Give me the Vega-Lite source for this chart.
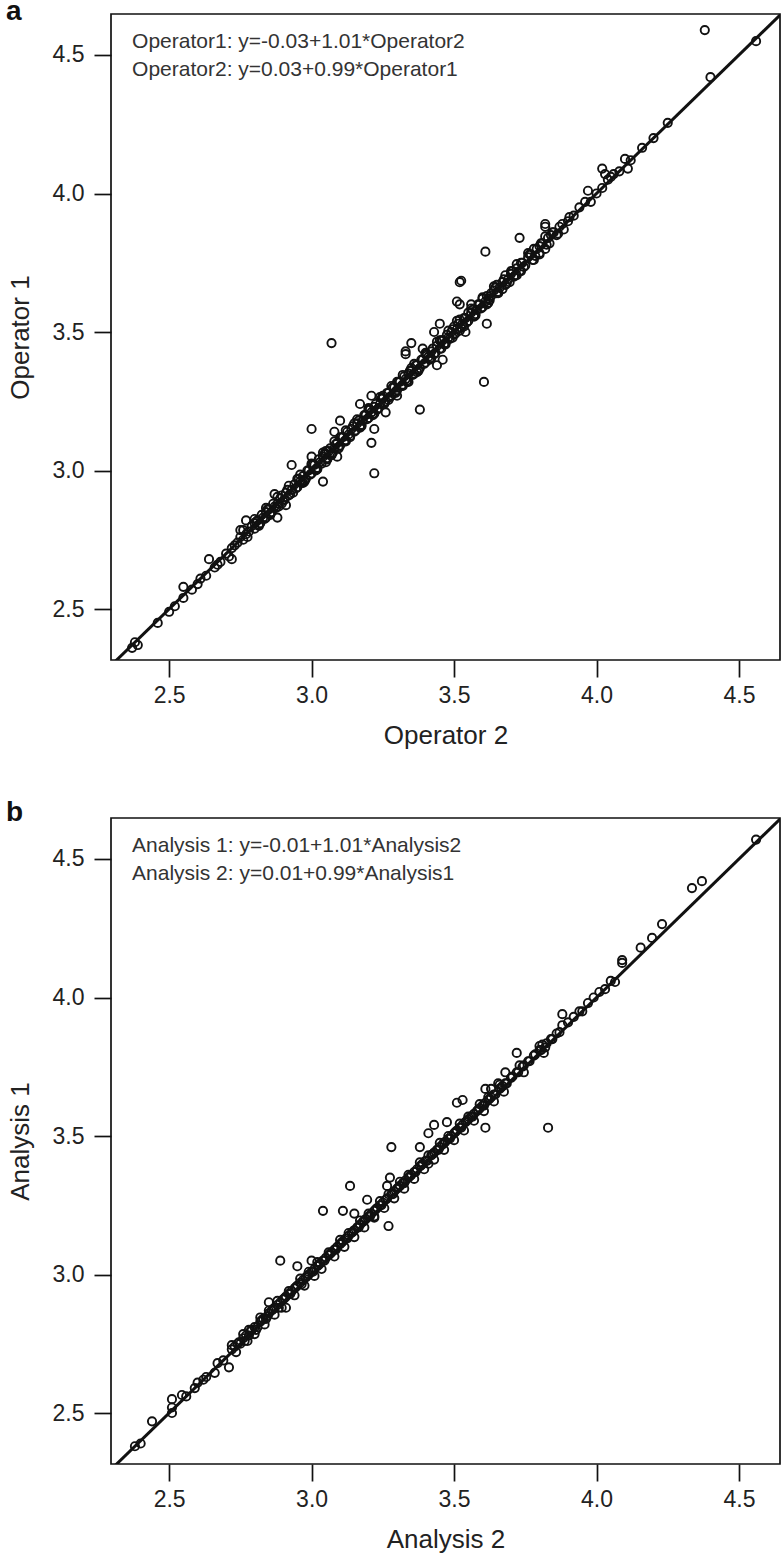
{
"$schema": "https://vega.github.io/schema/vega-lite/v6.json",
"autosize": "none",
"padding": {"left": 111, "top": 14, "right": 670, "bottom": 1546},
"background": "white",
"bounds": "flush",
"spacing": 158,
"config": {
  "font": "Liberation Sans",
  "view": {"stroke": "#111", "strokeWidth": 1.7},
  "axis": {"domain": false, "grid": false, "ticks": true, "tickColor": "#111", "tickSize": 17, "tickWidth": 1.7, "labelFontSize": 23, "labelColor": "#222", "titleFontSize": 26, "titleFontWeight": "normal", "titleColor": "#222", "labelFont": "Liberation Sans", "titleFont": "Liberation Sans"},
  "axisX": {"labelPadding": 7, "titlePadding": 15},
  "axisY": {"labelPadding": 10, "titlePadding": 19}
},
"datasets": {
"opA": [
{"o2":2.37,"o1":2.36},{"o2":2.38,"o1":2.38},{"o2":2.39,"o1":2.37},{"o2":2.46,"o1":2.45},{"o2":2.50,"o1":2.49},{"o2":2.52,"o1":2.51},{"o2":2.55,"o1":2.54},{"o2":2.55,"o1":2.58},{"o2":2.58,"o1":2.57},{"o2":2.60,"o1":2.59},{"o2":2.61,"o1":2.61},{"o2":2.63,"o1":2.62},{"o2":2.64,"o1":2.68},{"o2":2.66,"o1":2.65},{"o2":2.67,"o1":2.66},{"o2":2.68,"o1":2.67},{"o2":2.70,"o1":2.70},{"o2":2.71,"o1":2.69},{"o2":2.72,"o1":2.68},{"o2":2.72,"o1":2.72},{"o2":2.73,"o1":2.73},{"o2":2.74,"o1":2.74},{"o2":2.75,"o1":2.76},{"o2":2.75,"o1":2.785},{"o2":2.76,"o1":2.75},{"o2":2.77,"o1":2.77},{"o2":2.77,"o1":2.82},{"o2":2.78,"o1":2.78},{"o2":2.79,"o1":2.80},{"o2":2.80,"o1":2.79},{"o2":2.80,"o1":2.81},{"o2":2.81,"o1":2.82},{"o2":2.82,"o1":2.81},{"o2":2.83,"o1":2.83},{"o2":2.84,"o1":2.85},{"o2":2.84,"o1":2.83},{"o2":2.85,"o1":2.86},{"o2":2.86,"o1":2.85},{"o2":2.87,"o1":2.87},{"o2":2.87,"o1":2.915},{"o2":2.88,"o1":2.83},{"o2":2.88,"o1":2.88},{"o2":2.89,"o1":2.90},{"o2":2.90,"o1":2.89},{"o2":2.91,"o1":2.875},{"o2":2.91,"o1":2.92},{"o2":2.92,"o1":2.91},{"o2":2.93,"o1":3.02},{"o2":2.93,"o1":2.93},{"o2":2.94,"o1":2.95},{"o2":2.95,"o1":2.94},{"o2":2.96,"o1":2.96},{"o2":2.97,"o1":2.98},{"o2":2.98,"o1":2.97},{"o2":2.99,"o1":3.00},{"o2":3.00,"o1":3.05},{"o2":3.00,"o1":3.15},{"o2":3.00,"o1":2.99},{"o2":3.01,"o1":3.02},{"o2":3.02,"o1":3.01},{"o2":3.03,"o1":3.03},{"o2":3.04,"o1":2.96},{"o2":3.04,"o1":3.05},{"o2":3.05,"o1":3.03},{"o2":3.05,"o1":3.06},{"o2":3.06,"o1":3.07},{"o2":3.07,"o1":3.06},{"o2":3.07,"o1":3.46},{"o2":3.08,"o1":3.08},{"o2":3.08,"o1":3.14},{"o2":3.09,"o1":3.05},{"o2":3.09,"o1":3.10},{"o2":3.10,"o1":3.18},{"o2":3.10,"o1":3.09},{"o2":3.11,"o1":3.12},{"o2":3.12,"o1":3.11},{"o2":3.13,"o1":3.13},{"o2":3.14,"o1":3.15},{"o2":3.15,"o1":3.14},{"o2":3.16,"o1":3.17},{"o2":3.17,"o1":3.24},{"o2":3.17,"o1":3.16},{"o2":3.18,"o1":3.18},{"o2":3.19,"o1":3.20},{"o2":3.20,"o1":3.19},{"o2":3.21,"o1":3.27},{"o2":3.21,"o1":3.10},{"o2":3.21,"o1":3.21},{"o2":3.22,"o1":3.15},{"o2":3.22,"o1":2.99},{"o2":3.22,"o1":3.23},{"o2":3.23,"o1":3.22},{"o2":3.24,"o1":3.24},{"o2":3.25,"o1":3.26},{"o2":3.26,"o1":3.21},{"o2":3.26,"o1":3.25},{"o2":3.27,"o1":3.28},{"o2":3.28,"o1":3.27},{"o2":3.29,"o1":3.30},{"o2":3.30,"o1":3.27},{"o2":3.30,"o1":3.29},{"o2":3.31,"o1":3.32},{"o2":3.32,"o1":3.31},{"o2":3.33,"o1":3.42},{"o2":3.33,"o1":3.43},{"o2":3.33,"o1":3.33},{"o2":3.34,"o1":3.32},{"o2":3.34,"o1":3.35},{"o2":3.35,"o1":3.46},{"o2":3.35,"o1":3.36},{"o2":3.36,"o1":3.35},{"o2":3.37,"o1":3.38},{"o2":3.38,"o1":3.22},{"o2":3.38,"o1":3.37},{"o2":3.39,"o1":3.44},{"o2":3.39,"o1":3.40},{"o2":3.40,"o1":3.39},{"o2":3.41,"o1":3.41},{"o2":3.42,"o1":3.43},{"o2":3.43,"o1":3.50},{"o2":3.43,"o1":3.42},{"o2":3.44,"o1":3.38},{"o2":3.44,"o1":3.45},{"o2":3.45,"o1":3.53},{"o2":3.45,"o1":3.44},{"o2":3.46,"o1":3.40},{"o2":3.46,"o1":3.47},{"o2":3.47,"o1":3.46},{"o2":3.48,"o1":3.48},{"o2":3.49,"o1":3.50},{"o2":3.50,"o1":3.49},{"o2":3.51,"o1":3.54},{"o2":3.51,"o1":3.61},{"o2":3.51,"o1":3.51},{"o2":3.52,"o1":3.60},{"o2":3.52,"o1":3.68},{"o2":3.525,"o1":3.685},{"o2":3.53,"o1":3.53},{"o2":3.54,"o1":3.50},{"o2":3.54,"o1":3.55},{"o2":3.55,"o1":3.54},{"o2":3.56,"o1":3.60},{"o2":3.56,"o1":3.57},{"o2":3.57,"o1":3.56},{"o2":3.58,"o1":3.58},{"o2":3.59,"o1":3.60},{"o2":3.60,"o1":3.59},{"o2":3.605,"o1":3.32},{"o2":3.61,"o1":3.79},{"o2":3.61,"o1":3.61},{"o2":3.615,"o1":3.53},{"o2":3.62,"o1":3.62},{"o2":3.63,"o1":3.63},{"o2":3.63,"o1":3.64},{"o2":3.64,"o1":3.65},{"o2":3.65,"o1":3.64},{"o2":3.66,"o1":3.66},{"o2":3.67,"o1":3.68},{"o2":3.68,"o1":3.67},{"o2":3.69,"o1":3.69},{"o2":3.70,"o1":3.71},{"o2":3.71,"o1":3.70},{"o2":3.72,"o1":3.73},{"o2":3.73,"o1":3.84},{"o2":3.73,"o1":3.72},{"o2":3.74,"o1":3.75},{"o2":3.75,"o1":3.74},{"o2":3.76,"o1":3.77},{"o2":3.77,"o1":3.78},{"o2":3.78,"o1":3.76},{"o2":3.79,"o1":3.80},{"o2":3.80,"o1":3.81},{"o2":3.80,"o1":3.78},{"o2":3.81,"o1":3.82},{"o2":3.82,"o1":3.89},{"o2":3.82,"o1":3.88},{"o2":3.82,"o1":3.80},{"o2":3.83,"o1":3.84},{"o2":3.84,"o1":3.85},{"o2":3.85,"o1":3.86},{"o2":3.86,"o1":3.85},{"o2":3.87,"o1":3.88},{"o2":3.88,"o1":3.89},{"o2":3.90,"o1":3.90},{"o2":3.92,"o1":3.92},{"o2":3.94,"o1":3.95},{"o2":3.96,"o1":3.97},{"o2":3.97,"o1":4.01},{"o2":3.98,"o1":3.97},{"o2":4.00,"o1":4.00},{"o2":4.02,"o1":4.09},{"o2":4.02,"o1":4.02},{"o2":4.03,"o1":4.07},{"o2":4.04,"o1":4.05},{"o2":4.05,"o1":4.06},{"o2":4.06,"o1":4.07},{"o2":4.08,"o1":4.08},{"o2":4.10,"o1":4.125},{"o2":4.11,"o1":4.09},{"o2":4.12,"o1":4.12},{"o2":4.16,"o1":4.165},{"o2":4.20,"o1":4.20},{"o2":4.25,"o1":4.255},{"o2":4.38,"o1":4.59},{"o2":4.40,"o1":4.42},{"o2":4.56,"o1":4.55},
{"o2":2.805,"o1":2.815},{"o2":2.815,"o1":2.805},{"o2":2.825,"o1":2.84},{"o2":2.835,"o1":2.825},{"o2":2.845,"o1":2.86},{"o2":2.855,"o1":2.845},{"o2":2.865,"o1":2.88},{"o2":2.875,"o1":2.865},{"o2":2.885,"o1":2.87},{"o2":2.895,"o1":2.91},{"o2":2.905,"o1":2.895},{"o2":2.915,"o1":2.93},{"o2":2.925,"o1":2.915},{"o2":2.945,"o1":2.935},{"o2":2.955,"o1":2.97},{"o2":2.965,"o1":2.955},{"o2":2.975,"o1":2.965},{"o2":2.985,"o1":3.0},{"o2":2.995,"o1":2.985},{"o2":3.005,"o1":3.02},{"o2":3.015,"o1":3.005},{"o2":3.025,"o1":3.04},{"o2":3.035,"o1":3.025},{"o2":3.045,"o1":3.06},{"o2":3.055,"o1":3.045},{"o2":3.065,"o1":3.08},{"o2":3.075,"o1":3.065},{"o2":3.085,"o1":3.095},{"o2":3.095,"o1":3.085},{"o2":3.105,"o1":3.12},{"o2":3.115,"o1":3.105},{"o2":3.125,"o1":3.14},{"o2":3.135,"o1":3.125},{"o2":3.145,"o1":3.16},{"o2":3.155,"o1":3.145},{"o2":3.165,"o1":3.18},{"o2":3.175,"o1":3.165},{"o2":3.185,"o1":3.2},{"o2":3.195,"o1":3.185},{"o2":3.205,"o1":3.22},{"o2":3.215,"o1":3.205},{"o2":3.225,"o1":3.24},{"o2":3.235,"o1":3.225},{"o2":3.245,"o1":3.26},{"o2":3.255,"o1":3.245},{"o2":3.265,"o1":3.28},{"o2":3.275,"o1":3.265},{"o2":3.285,"o1":3.3},{"o2":3.295,"o1":3.285},{"o2":3.305,"o1":3.32},{"o2":3.315,"o1":3.305},{"o2":3.325,"o1":3.34},{"o2":3.335,"o1":3.325},{"o2":3.345,"o1":3.36},{"o2":3.355,"o1":3.345},{"o2":3.365,"o1":3.38},{"o2":3.375,"o1":3.365},{"o2":3.385,"o1":3.4},{"o2":3.395,"o1":3.385},{"o2":3.405,"o1":3.42},{"o2":3.415,"o1":3.405},{"o2":3.425,"o1":3.44},{"o2":3.435,"o1":3.425},{"o2":3.455,"o1":3.47},{"o2":3.465,"o1":3.455},{"o2":3.475,"o1":3.49},{"o2":3.485,"o1":3.475},{"o2":3.495,"o1":3.51},{"o2":3.505,"o1":3.495},{"o2":3.515,"o1":3.53},{"o2":3.525,"o1":3.515},{"o2":3.535,"o1":3.55},{"o2":3.545,"o1":3.535},{"o2":3.565,"o1":3.58},{"o2":3.575,"o1":3.565},{"o2":3.585,"o1":3.6},{"o2":3.595,"o1":3.585},{"o2":3.615,"o1":3.63},{"o2":3.625,"o1":3.615},{"o2":3.645,"o1":3.66},{"o2":3.655,"o1":3.645},{"o2":3.675,"o1":3.69},{"o2":3.685,"o1":3.675},{"o2":3.705,"o1":3.72},{"o2":3.715,"o1":3.705},{"o2":3.735,"o1":3.75},{"o2":3.745,"o1":3.735},{"o2":3.765,"o1":3.78},{"o2":3.785,"o1":3.775},{"o2":3.805,"o1":3.82},{"o2":3.825,"o1":3.815},{"o2":3.845,"o1":3.86},{"o2":3.865,"o1":3.855},{"o2":3.885,"o1":3.87},{"o2":3.905,"o1":3.915},
{"o2":2.95,"o1":2.97},{"o2":2.97,"o1":2.955},{"o2":3.00,"o1":3.02},{"o2":3.02,"o1":3.005},{"o2":3.05,"o1":3.07},{"o2":3.07,"o1":3.055},{"o2":3.10,"o1":3.12},{"o2":3.12,"o1":3.105},{"o2":3.15,"o1":3.17},{"o2":3.17,"o1":3.155},{"o2":3.20,"o1":3.22},{"o2":3.22,"o1":3.205},{"o2":3.25,"o1":3.27},{"o2":3.27,"o1":3.255},{"o2":3.30,"o1":3.32},{"o2":3.32,"o1":3.305},{"o2":3.35,"o1":3.37},{"o2":3.37,"o1":3.355},{"o2":3.40,"o1":3.42},{"o2":3.42,"o1":3.405},{"o2":3.45,"o1":3.47},{"o2":3.47,"o1":3.455},{"o2":3.50,"o1":3.52},{"o2":3.52,"o1":3.505},{"o2":3.55,"o1":3.57},{"o2":3.57,"o1":3.555},{"o2":3.60,"o1":3.62},{"o2":3.62,"o1":3.605},{"o2":3.65,"o1":3.67},{"o2":3.67,"o1":3.655},{"o2":3.70,"o1":3.72},{"o2":3.72,"o1":3.705},{"o2":3.78,"o1":3.80},{"o2":3.80,"o1":3.785},
{"o2":2.76,"o1":2.785},{"o2":2.775,"o1":2.76},{"o2":2.80,"o1":2.825},{"o2":2.815,"o1":2.80},{"o2":2.84,"o1":2.865},{"o2":2.855,"o1":2.84},{"o2":2.88,"o1":2.905},{"o2":2.895,"o1":2.88},{"o2":2.92,"o1":2.945},{"o2":2.935,"o1":2.92},{"o2":2.96,"o1":2.985},{"o2":2.975,"o1":2.96},{"o2":3.00,"o1":3.025},{"o2":3.015,"o1":3.00},{"o2":3.04,"o1":3.065},{"o2":3.055,"o1":3.04},{"o2":3.08,"o1":3.105},{"o2":3.095,"o1":3.08},{"o2":3.12,"o1":3.145},{"o2":3.135,"o1":3.12},{"o2":3.16,"o1":3.185},{"o2":3.175,"o1":3.16},{"o2":3.20,"o1":3.225},{"o2":3.215,"o1":3.20},{"o2":3.24,"o1":3.265},{"o2":3.255,"o1":3.24},{"o2":3.28,"o1":3.305},{"o2":3.295,"o1":3.28},{"o2":3.32,"o1":3.345},{"o2":3.335,"o1":3.32},{"o2":3.36,"o1":3.385},{"o2":3.375,"o1":3.36},{"o2":3.40,"o1":3.425},{"o2":3.415,"o1":3.40},{"o2":3.44,"o1":3.465},{"o2":3.455,"o1":3.44},{"o2":3.48,"o1":3.505},{"o2":3.495,"o1":3.48},{"o2":3.52,"o1":3.545},{"o2":3.535,"o1":3.52},{"o2":3.56,"o1":3.585},{"o2":3.575,"o1":3.56},{"o2":3.60,"o1":3.625},{"o2":3.615,"o1":3.60},{"o2":3.64,"o1":3.665},{"o2":3.655,"o1":3.64},{"o2":3.68,"o1":3.705},{"o2":3.695,"o1":3.68},{"o2":3.72,"o1":3.745},{"o2":3.735,"o1":3.72},{"o2":3.76,"o1":3.785},{"o2":3.775,"o1":3.76},{"o2":3.82,"o1":3.845},{"o2":3.835,"o1":3.82}
],
"opB": [
{"a2":2.38,"a1":2.38},{"a2":2.40,"a1":2.39},{"a2":2.44,"a1":2.47},{"a2":2.51,"a1":2.55},{"a2":2.51,"a1":2.50},{"a2":2.51,"a1":2.52},{"a2":2.545,"a1":2.565},{"a2":2.56,"a1":2.56},{"a2":2.59,"a1":2.59},{"a2":2.60,"a1":2.61},{"a2":2.62,"a1":2.62},{"a2":2.63,"a1":2.63},{"a2":2.66,"a1":2.645},{"a2":2.67,"a1":2.68},{"a2":2.69,"a1":2.69},{"a2":2.71,"a1":2.665},{"a2":2.72,"a1":2.73},{"a2":2.73,"a1":2.74},{"a2":2.74,"a1":2.75},{"a2":2.75,"a1":2.75},{"a2":2.76,"a1":2.77},{"a2":2.77,"a1":2.78},{"a2":2.78,"a1":2.78},{"a2":2.79,"a1":2.80},{"a2":2.80,"a1":2.81},{"a2":2.81,"a1":2.81},{"a2":2.82,"a1":2.83},{"a2":2.83,"a1":2.84},{"a2":2.84,"a1":2.84},{"a2":2.85,"a1":2.90},{"a2":2.85,"a1":2.86},{"a2":2.86,"a1":2.87},{"a2":2.87,"a1":2.88},{"a2":2.88,"a1":2.89},{"a2":2.89,"a1":3.05},{"a2":2.89,"a1":2.90},{"a2":2.90,"a1":2.91},{"a2":2.91,"a1":2.88},{"a2":2.91,"a1":2.92},{"a2":2.92,"a1":2.93},{"a2":2.93,"a1":2.94},{"a2":2.94,"a1":2.95},{"a2":2.95,"a1":3.03},{"a2":2.95,"a1":2.96},{"a2":2.96,"a1":2.97},{"a2":2.97,"a1":2.98},{"a2":2.98,"a1":2.99},{"a2":2.99,"a1":3.00},{"a2":3.00,"a1":3.05},{"a2":3.00,"a1":3.01},{"a2":3.01,"a1":3.02},{"a2":3.02,"a1":3.03},{"a2":3.03,"a1":3.04},{"a2":3.04,"a1":3.23},{"a2":3.04,"a1":3.05},{"a2":3.05,"a1":3.06},{"a2":3.06,"a1":3.07},{"a2":3.07,"a1":3.08},{"a2":3.08,"a1":3.09},{"a2":3.09,"a1":3.10},{"a2":3.10,"a1":3.11},{"a2":3.11,"a1":3.23},{"a2":3.11,"a1":3.12},{"a2":3.12,"a1":3.13},{"a2":3.13,"a1":3.14},{"a2":3.135,"a1":3.32},{"a2":3.14,"a1":3.15},{"a2":3.15,"a1":3.22},{"a2":3.15,"a1":3.16},{"a2":3.16,"a1":3.17},{"a2":3.17,"a1":3.18},{"a2":3.18,"a1":3.19},{"a2":3.19,"a1":3.20},{"a2":3.195,"a1":3.27},{"a2":3.20,"a1":3.21},{"a2":3.21,"a1":3.22},{"a2":3.22,"a1":3.21},{"a2":3.22,"a1":3.23},{"a2":3.23,"a1":3.24},{"a2":3.24,"a1":3.25},{"a2":3.25,"a1":3.26},{"a2":3.26,"a1":3.27},{"a2":3.265,"a1":3.32},{"a2":3.27,"a1":3.175},{"a2":3.275,"a1":3.35},{"a2":3.28,"a1":3.46},{"a2":3.28,"a1":3.29},{"a2":3.29,"a1":3.30},{"a2":3.30,"a1":3.31},{"a2":3.31,"a1":3.32},{"a2":3.32,"a1":3.33},{"a2":3.33,"a1":3.34},{"a2":3.34,"a1":3.35},{"a2":3.35,"a1":3.36},{"a2":3.36,"a1":3.37},{"a2":3.37,"a1":3.38},{"a2":3.38,"a1":3.46},{"a2":3.38,"a1":3.39},{"a2":3.39,"a1":3.40},{"a2":3.40,"a1":3.41},{"a2":3.41,"a1":3.40},{"a2":3.41,"a1":3.51},{"a2":3.42,"a1":3.43},{"a2":3.43,"a1":3.54},{"a2":3.43,"a1":3.44},{"a2":3.44,"a1":3.45},{"a2":3.45,"a1":3.46},{"a2":3.46,"a1":3.47},{"a2":3.475,"a1":3.55},{"a2":3.47,"a1":3.48},{"a2":3.48,"a1":3.49},{"a2":3.49,"a1":3.50},{"a2":3.50,"a1":3.51},{"a2":3.51,"a1":3.62},{"a2":3.51,"a1":3.52},{"a2":3.52,"a1":3.53},{"a2":3.53,"a1":3.63},{"a2":3.53,"a1":3.54},{"a2":3.54,"a1":3.55},{"a2":3.55,"a1":3.56},{"a2":3.56,"a1":3.57},{"a2":3.57,"a1":3.58},{"a2":3.58,"a1":3.59},{"a2":3.59,"a1":3.60},{"a2":3.60,"a1":3.61},{"a2":3.61,"a1":3.67},{"a2":3.61,"a1":3.53},{"a2":3.61,"a1":3.62},{"a2":3.62,"a1":3.63},{"a2":3.63,"a1":3.67},{"a2":3.63,"a1":3.64},{"a2":3.64,"a1":3.65},{"a2":3.655,"a1":3.69},{"a2":3.66,"a1":3.67},{"a2":3.67,"a1":3.68},{"a2":3.68,"a1":3.73},{"a2":3.68,"a1":3.69},{"a2":3.70,"a1":3.71},{"a2":3.72,"a1":3.80},{"a2":3.72,"a1":3.73},{"a2":3.74,"a1":3.75},{"a2":3.76,"a1":3.77},{"a2":3.78,"a1":3.79},{"a2":3.80,"a1":3.81},{"a2":3.81,"a1":3.83},{"a2":3.82,"a1":3.82},{"a2":3.83,"a1":3.53},{"a2":3.84,"a1":3.85},{"a2":3.86,"a1":3.87},{"a2":3.88,"a1":3.90},{"a2":3.88,"a1":3.94},{"a2":3.90,"a1":3.91},{"a2":3.92,"a1":3.93},{"a2":3.94,"a1":3.95},{"a2":3.95,"a1":3.95},{"a2":3.97,"a1":3.98},{"a2":3.99,"a1":4.00},{"a2":4.01,"a1":4.02},{"a2":4.03,"a1":4.03},{"a2":4.05,"a1":4.06},{"a2":4.065,"a1":4.056},{"a2":4.09,"a1":4.135},{"a2":4.09,"a1":4.125},{"a2":4.155,"a1":4.18},{"a2":4.195,"a1":4.215},{"a2":4.23,"a1":4.265},{"a2":4.335,"a1":4.395},{"a2":4.37,"a1":4.42},{"a2":4.56,"a1":4.57},
{"a2":2.745,"a1":2.755},{"a2":2.765,"a1":2.76},{"a2":2.785,"a1":2.795},{"a2":2.805,"a1":2.80},{"a2":2.825,"a1":2.835},{"a2":2.845,"a1":2.85},{"a2":2.865,"a1":2.875},{"a2":2.885,"a1":2.88},{"a2":2.905,"a1":2.915},{"a2":2.925,"a1":2.93},{"a2":2.945,"a1":2.955},{"a2":2.965,"a1":2.965},{"a2":2.985,"a1":2.995},{"a2":3.005,"a1":3.01},{"a2":3.025,"a1":3.035},{"a2":3.045,"a1":3.05},{"a2":3.065,"a1":3.075},{"a2":3.085,"a1":3.09},{"a2":3.105,"a1":3.115},{"a2":3.125,"a1":3.13},{"a2":3.145,"a1":3.155},{"a2":3.165,"a1":3.17},{"a2":3.185,"a1":3.195},{"a2":3.205,"a1":3.21},{"a2":3.225,"a1":3.235},{"a2":3.245,"a1":3.25},{"a2":3.265,"a1":3.275},{"a2":3.285,"a1":3.29},{"a2":3.305,"a1":3.315},{"a2":3.325,"a1":3.33},{"a2":3.345,"a1":3.355},{"a2":3.365,"a1":3.37},{"a2":3.385,"a1":3.395},{"a2":3.405,"a1":3.41},{"a2":3.425,"a1":3.435},{"a2":3.445,"a1":3.45},{"a2":3.465,"a1":3.475},{"a2":3.485,"a1":3.49},{"a2":3.505,"a1":3.515},{"a2":3.525,"a1":3.53},{"a2":3.545,"a1":3.555},{"a2":3.565,"a1":3.57},{"a2":3.585,"a1":3.595},{"a2":3.605,"a1":3.61},{"a2":3.625,"a1":3.635},{"a2":3.645,"a1":3.65},{"a2":3.665,"a1":3.675},{"a2":3.685,"a1":3.69},{"a2":3.705,"a1":3.715},{"a2":3.725,"a1":3.73},{"a2":3.745,"a1":3.755},{"a2":3.765,"a1":3.77},{"a2":3.785,"a1":3.795},{"a2":3.805,"a1":3.81},{"a2":3.825,"a1":3.835},{"a2":3.845,"a1":3.85},{"a2":3.87,"a1":3.875},
{"a2":2.78,"a1":2.80},{"a2":2.80,"a1":2.785},{"a2":2.85,"a1":2.87},{"a2":2.87,"a1":2.855},{"a2":2.92,"a1":2.94},{"a2":2.94,"a1":2.925},{"a2":2.99,"a1":3.01},{"a2":3.01,"a1":2.995},{"a2":3.06,"a1":3.08},{"a2":3.08,"a1":3.065},{"a2":3.13,"a1":3.15},{"a2":3.15,"a1":3.135},{"a2":3.20,"a1":3.22},{"a2":3.22,"a1":3.205},{"a2":3.27,"a1":3.29},{"a2":3.29,"a1":3.275},{"a2":3.34,"a1":3.36},{"a2":3.36,"a1":3.345},{"a2":3.41,"a1":3.43},{"a2":3.43,"a1":3.415},{"a2":3.48,"a1":3.50},{"a2":3.50,"a1":3.485},{"a2":3.55,"a1":3.57},{"a2":3.57,"a1":3.555},{"a2":3.62,"a1":3.64},{"a2":3.64,"a1":3.625},
{"a2":2.72,"a1":2.745},{"a2":2.735,"a1":2.72},{"a2":2.76,"a1":2.785},{"a2":2.775,"a1":2.76},{"a2":2.82,"a1":2.845},{"a2":2.835,"a1":2.82},{"a2":2.88,"a1":2.905},{"a2":2.895,"a1":2.88},{"a2":2.96,"a1":2.985},{"a2":2.975,"a1":2.96},{"a2":3.02,"a1":3.045},{"a2":3.035,"a1":3.02},{"a2":3.10,"a1":3.125},{"a2":3.115,"a1":3.10},{"a2":3.17,"a1":3.195},{"a2":3.185,"a1":3.17},{"a2":3.24,"a1":3.265},{"a2":3.255,"a1":3.24},{"a2":3.31,"a1":3.335},{"a2":3.325,"a1":3.31},{"a2":3.38,"a1":3.405},{"a2":3.395,"a1":3.38},{"a2":3.45,"a1":3.475},{"a2":3.465,"a1":3.45},{"a2":3.52,"a1":3.545},{"a2":3.535,"a1":3.52},{"a2":3.59,"a1":3.615},{"a2":3.605,"a1":3.59},{"a2":3.66,"a1":3.685},{"a2":3.675,"a1":3.66},{"a2":3.73,"a1":3.755},{"a2":3.745,"a1":3.73},{"a2":3.80,"a1":3.825},{"a2":3.815,"a1":3.80}
]
},
"vconcat": [
{
 "width": 669, "height": 646,
 "title": {"text": "a", "anchor": "start", "frame": "group", "fontSize": 28, "fontWeight": "bold", "font": "Liberation Sans", "color": "#111", "dx": -105, "offset": 0, "dy": 34, "baseline": "alphabetic"},
 "layer": [
  {"data": {"name": "opA"},
   "mark": {"type": "point", "shape": "circle", "filled": false, "size": 68, "strokeWidth": 1.9, "color": "#111", "opacity": 1},
   "encoding": {
     "x": {"field": "o2", "type": "quantitative", "scale": {"domain": [2.296, 4.644], "nice": false, "zero": false}, "axis": {"values": [2.5, 3, 3.5, 4, 4.5], "format": ".1f", "title": "Operator 2"}},
     "y": {"field": "o1", "type": "quantitative", "scale": {"domain": [2.316, 4.648], "nice": false, "zero": false}, "axis": {"values": [2.5, 3, 3.5, 4, 4.5], "format": ".1f", "title": "Operator 1"}}
   }},
  {"data": {"values": [{"o2": 2.2, "o1": 2.2}, {"o2": 4.7, "o1": 4.7}]},
   "mark": {"type": "line", "color": "#111", "strokeWidth": 3, "clip": true},
   "encoding": {"x": {"field": "o2", "type": "quantitative"}, "y": {"field": "o1", "type": "quantitative"}}},
  {"data": {"values": [{}]},
   "mark": {"type": "text", "align": "left", "baseline": "middle", "fontSize": 21, "color": "#333", "font": "Liberation Sans", "text": "Operator1: y=-0.03+1.01*Operator2"},
   "encoding": {"x": {"datum": 2.37, "type": "quantitative"}, "y": {"datum": 4.547, "type": "quantitative"}}},
  {"data": {"values": [{}]},
   "mark": {"type": "text", "align": "left", "baseline": "middle", "fontSize": 21, "color": "#333", "font": "Liberation Sans", "text": "Operator2: y=0.03+0.99*Operator1"},
   "encoding": {"x": {"datum": 2.37, "type": "quantitative"}, "y": {"datum": 4.446, "type": "quantitative"}}}
 ]
},
{
 "width": 669, "height": 646,
 "title": {"text": "b", "anchor": "start", "frame": "group", "fontSize": 28, "fontWeight": "bold", "font": "Liberation Sans", "color": "#111", "dx": -105, "offset": 0, "dy": 31, "baseline": "alphabetic"},
 "layer": [
  {"data": {"name": "opB"},
   "mark": {"type": "point", "shape": "circle", "filled": false, "size": 68, "strokeWidth": 1.9, "color": "#111", "opacity": 1},
   "encoding": {
     "x": {"field": "a2", "type": "quantitative", "scale": {"domain": [2.296, 4.644], "nice": false, "zero": false}, "axis": {"values": [2.5, 3, 3.5, 4, 4.5], "format": ".1f", "title": "Analysis 2"}},
     "y": {"field": "a1", "type": "quantitative", "scale": {"domain": [2.316, 4.648], "nice": false, "zero": false}, "axis": {"values": [2.5, 3, 3.5, 4, 4.5], "format": ".1f", "title": "Analysis 1"}}
   }},
  {"data": {"values": [{"a2": 2.2, "a1": 2.2}, {"a2": 4.7, "a1": 4.7}]},
   "mark": {"type": "line", "color": "#111", "strokeWidth": 3, "clip": true},
   "encoding": {"x": {"field": "a2", "type": "quantitative"}, "y": {"field": "a1", "type": "quantitative"}}},
  {"data": {"values": [{}]},
   "mark": {"type": "text", "align": "left", "baseline": "middle", "fontSize": 21, "color": "#333", "font": "Liberation Sans", "text": "Analysis 1: y=-0.01+1.01*Analysis2"},
   "encoding": {"x": {"datum": 2.37, "type": "quantitative"}, "y": {"datum": 4.547, "type": "quantitative"}}},
  {"data": {"values": [{}]},
   "mark": {"type": "text", "align": "left", "baseline": "middle", "fontSize": 21, "color": "#333", "font": "Liberation Sans", "text": "Analysis 2: y=0.01+0.99*Analysis1"},
   "encoding": {"x": {"datum": 2.37, "type": "quantitative"}, "y": {"datum": 4.446, "type": "quantitative"}}}
 ]
}
]
}
